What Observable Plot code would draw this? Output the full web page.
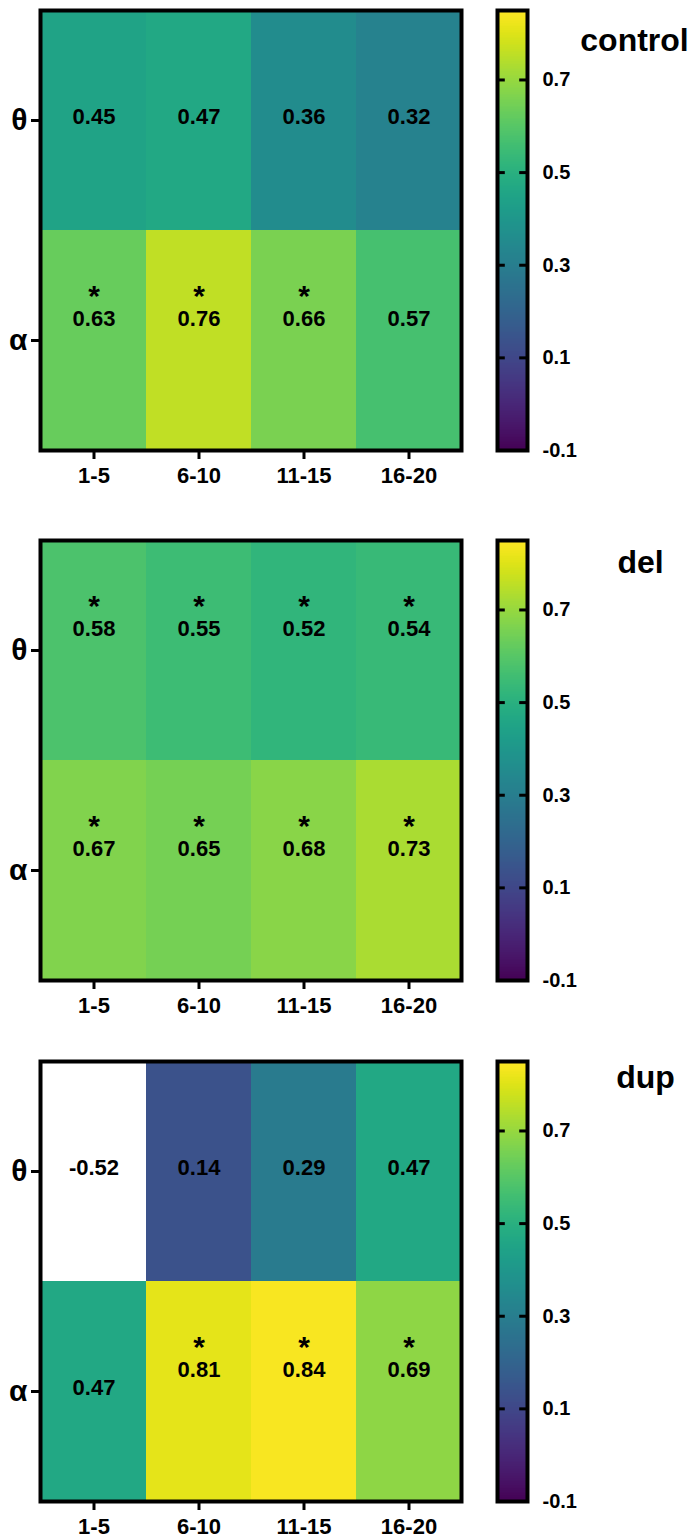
<!DOCTYPE html>
<html>
<head>
<meta charset="utf-8">
<script src="https://cdn.jsdelivr.net/npm/d3@7"></script>
<script src="https://cdn.jsdelivr.net/npm/@observablehq/plot@0.6"></script>
<style>
  html, body { margin: 0; padding: 0; background: white; }
  #root { position: relative; width: 692px; height: 1539px; overflow: hidden; }
  .panel { position: absolute; left: 0; width: 692px; height: 500px; }
  .panel svg { position: absolute; top: 0; overflow: visible; }
</style>
</head>
<body>
<div id="root"></div>
<script>
// ---- data ----
const xCats = ["1-5", "6-10", "11-15", "16-20"];
const rowCats = ["θ", "α"];
const panelNames = ["control", "del", "dup"];

// significance line above each value: "*" = significant, " " = empty first line, null = no first line
const controlTheta = [0.45, 0.47, 0.36, 0.32];
const controlAlpha = [0.63, 0.76, 0.66, 0.57];
const controlThetaSig = [null, null, null, null];
const controlAlphaSig = ["*", "*", "*", " "];

const delTheta = [0.58, 0.55, 0.52, 0.54];
const delAlpha = [0.67, 0.65, 0.68, 0.73];
const delThetaSig = ["*", "*", "*", "*"];
const delAlphaSig = ["*", "*", "*", "*"];

const dupTheta = [-0.52, 0.14, 0.29, 0.47];
const dupAlpha = [0.47, 0.81, 0.84, 0.69];
const dupThetaSig = [null, null, null, null];
const dupAlphaSig = [null, "*", "*", "*"];

const colorDomain = [-0.1, 0.85];
const colorbarTicks = [-0.1, 0.1, 0.3, 0.5, 0.7];

// ---- layout (style only) ----
const FONT = "'Liberation Sans', Arial, Helvetica, sans-serif";
const layout = [
  {top: 0, titleBaseline: 50, titleX: 634},
  {top: 530, titleBaseline: 42, titleX: 640},
  {top: 1051, titleBaseline: 36, titleX: 645}
];

const panelsData = [
  [controlTheta, controlAlpha, controlThetaSig, controlAlphaSig],
  [delTheta, delAlpha, delThetaSig, delAlphaSig],
  [dupTheta, dupAlpha, dupThetaSig, dupAlphaSig]
];

const color = {type: "linear", domain: colorDomain, scheme: "viridis"};
const root = document.getElementById("root");

panelNames.forEach((name, p) => {
  const [th, al, thS, alS] = panelsData[p];
  const cells = xCats.flatMap((x, i) => [
    {x, y: rowCats[0], v: th[i], sig: thS[i]},
    {x, y: rowCats[1], v: al[i], sig: alS[i]}
  ]);
  const twoLine = d => d.sig !== null;

  const heat = Plot.plot({
    width: 480, height: 500,
    marginTop: 10, marginLeft: 40, marginRight: 19, marginBottom: 50,
    style: {fontFamily: FONT, fontWeight: "bold", color: "black", background: "transparent", overflow: "visible"},
    x: {domain: xCats, padding: 0, label: null},
    y: {domain: rowCats, padding: 0, label: null},
    color,
    marks: [
      Plot.cell(cells.filter(d => d.v >= colorDomain[0]), {x: "x", y: "y", fill: "v"}),
      Plot.cell(cells.filter(d => d.v < colorDomain[0]), {x: "x", y: "y", fill: "white"}),
      Plot.text(cells.filter(d => !twoLine(d)), {x: "x", y: "y", text: d => d.v.toFixed(2), dy: -4, fontSize: 22, fontWeight: "bold", fill: "black"}),
      Plot.text(cells.filter(twoLine), {x: "x", y: "y", text: d => d.v.toFixed(2), dy: -22, fontSize: 22, fontWeight: "bold", fill: "black"}),
      Plot.text(cells.filter(d => d.sig === "*"), {x: "x", y: "y", text: "sig", dy: -35, lineAnchor: "bottom", fontSize: 30, fontWeight: "bold", fill: "black"}),
      Plot.axisX({tickSize: 9, tickPadding: 8, fontSize: 22, fontWeight: "bold", strokeWidth: 3, label: null}),
      Plot.axisY({tickSize: 9, tickPadding: 4, fontSize: 30, fontWeight: "bold", strokeWidth: 3, label: null}),
      Plot.frame({stroke: "black", strokeWidth: 4})
    ]
  });

  const n = 440;
  const slices = d3.range(n).map(i => {
    const a = colorDomain[0] + (colorDomain[1] - colorDomain[0]) * i / n;
    const b = colorDomain[0] + (colorDomain[1] - colorDomain[0]) * (i + 1) / n;
    return {y1: a, y2: b, v: (a + b) / 2};
  });
  const inner = colorbarTicks.filter(t => t > colorDomain[0]);

  const bar = Plot.plot({
    width: 232, height: 500,
    marginTop: 10, marginBottom: 50, marginLeft: 37, marginRight: 165,
    style: {fontFamily: FONT, fontWeight: "bold", color: "black", background: "transparent", overflow: "visible"},
    x: {domain: [0, 1], axis: null},
    y: {domain: colorDomain, axis: null},
    color,
    marks: [
      Plot.rect(slices, {x1: 0, x2: 1, y1: "y1", y2: "y2", fill: "v", insetTop: -0.6, insetBottom: -0.6, shapeRendering: "crispEdges"}),
      Plot.ruleY(inner, {x1: 0, x2: 0.26, stroke: "black", strokeWidth: 3}),
      Plot.ruleY(inner, {x1: 0.74, x2: 1, stroke: "black", strokeWidth: 3}),
      Plot.axisY(colorbarTicks, {anchor: "right", tickSize: 0, tickPadding: 15, fontSize: 20, fontWeight: "bold", tickFormat: d => d.toFixed(1), label: null}),
      Plot.frame({stroke: "black", strokeWidth: 4}),
      Plot.text([name], {frameAnchor: "top-right", dx: layout[p].titleX - 527, dy: layout[p].titleBaseline - 10, lineAnchor: "bottom", textAnchor: "middle", fontSize: 32, fontWeight: "bold", fill: "black"})
    ]
  });

  const div = document.createElement("div");
  div.className = "panel";
  div.style.top = layout[p].top + "px";
  heat.style.left = "0px";
  bar.style.left = "460px";
  div.appendChild(heat);
  div.appendChild(bar);
  root.appendChild(div);
});
</script>
</body>
</html>
